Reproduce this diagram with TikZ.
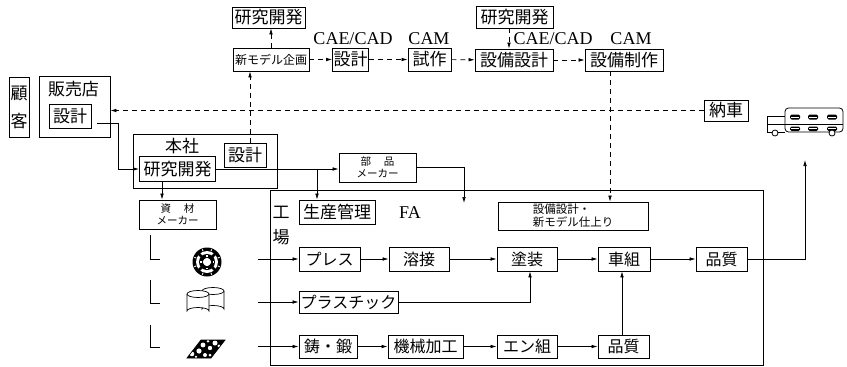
\documentclass[tikz,border=0pt]{standalone}
\usepackage{fontspec}
\setmainfont{Noto Sans CJK JP}
\newfontfamily\latin{Liberation Serif}
\usetikzlibrary{arrows.meta}

\begin{document}
\begin{tikzpicture}[x=1pt,y=-1pt,
  bx/.style={draw, line width=0.8pt, inner sep=0pt, font=\fontsize{17}{20}\selectfont},
  rowbx/.style={bx, font=\fontsize{16}{19}\selectfont},
  small/.style={bx, align=center, font=\fontsize{10.5}{12}\selectfont},
  lbl/.style={inner sep=0pt, font=\fontsize{17}{20}\selectfont},
  latinlbl/.style={inner sep=0pt, font=\latin\fontsize{18}{20}\selectfont},
  arr/.style={-{Latex[length=6pt,width=3.6pt]}, line width=0.7pt},
  dsh/.style={arr, dash pattern=on 5pt off 4pt},
  plain/.style={line width=0.7pt}]

\fill[white] (0,0) rectangle (847,367);
\useasboundingbox (0,0) rectangle (847,367);

% --- customer and dealer ---
\node[bx, minimum width=20, minimum height=60, align=center] (kokyaku) at (19,107) {顧\\[8pt]客};
\node[bx, minimum width=71, minimum height=61] (hanbai) at (74.5,106.5) {};
\node[lbl] (hanbaiLbl) at (73.5,89.5) {販売店};
\node[bx, minimum width=42, minimum height=24] (hsekkei) at (70,116) {設計};

% --- head office ---
\node[bx, minimum width=144, minimum height=54] (honsha) at (205,161) {};
\node[lbl] (honshaLbl) at (182,146) {本社};
\node[bx, minimum width=76, minimum height=25] (hkenkyu) at (177.5,169) {研究開発};
\node[bx, minimum width=42, minimum height=24] (hsekkei2) at (245,155) {設計};

% --- planning chain (top row) ---
\node[bx, minimum width=73, minimum height=21] (kenkyuA) at (268.5,17.5) {研究開発};
\node[bx, minimum width=76, minimum height=23, font=\fontsize{12}{14}\selectfont] (shinmodel) at (271,59.5) {新モデル企画};
\node[bx, minimum width=36, minimum height=23] (sekkeiT) at (350.5,59.5) {設計};
\node[bx, minimum width=43, minimum height=23] (shisaku) at (429.5,59.5) {試作};
\node[bx, minimum width=78, minimum height=22] (setsubiS) at (514,60) {設備設計};
\node[bx, minimum width=77, minimum height=22] (kenkyuB) at (514.5,17) {研究開発};
\node[bx, minimum width=78, minimum height=22] (setsubiM) at (624,60) {設備制作};

\node[latinlbl] (cadA) at (353,39) {CAE/CAD};
\node[latinlbl] (camA) at (429,39) {CAM};
\node[latinlbl] (cadB) at (553,39) {CAE/CAD};
\node[latinlbl] (camB) at (631,39) {CAM};

\node[bx, minimum width=44, minimum height=21] (nousha) at (726,110.5) {納車};

% --- suppliers ---
\node[small, minimum width=77, minimum height=29] (buhin) at (377.5,167.5) {部\hspace{1.2em}品\\メーカー};
\node[small, minimum width=77, minimum height=29] (shizai) at (177.5,214.5) {資\hspace{1.2em}材\\メーカー};

% --- factory ---
\node[draw, line width=0.8pt, minimum width=493, minimum height=175] (factory) at (516.5,277.5) {};
\node[lbl] (kou) at (281,212) {工};
\node[lbl] (jou) at (281,237) {場};
\node[latinlbl] (fa) at (410,213) {FA};
\node[bx, minimum width=76, minimum height=24] (seisan) at (337,212) {生産管理};
\node[bx, minimum width=150, minimum height=28, align=left, font=\fontsize{11.5}{13}\selectfont] (finish) at (573,216) {設備設計・\\新モデル仕上り};

% row 1
\node[rowbx, minimum width=61, minimum height=24] (press) at (329.5,259) {プレス};
\node[rowbx, minimum width=60, minimum height=24] (yousetsu) at (419,259) {溶接};
\node[rowbx, minimum width=60, minimum height=24] (tosou) at (527,259) {塗装};
\node[rowbx, minimum width=52, minimum height=24] (shakumi) at (624,259) {車組};
\node[rowbx, minimum width=51, minimum height=24] (hinA) at (721.5,259) {品質};
% row 2
\node[rowbx, minimum width=99, minimum height=22] (plastic) at (348.5,302) {プラスチック};
% row 3
\node[rowbx, minimum width=58, minimum height=23] (chutan) at (328,346.5) {鋳・鍛};
\node[rowbx, minimum width=75, minimum height=23] (kikai) at (425.5,346.5) {機械加工};
\node[rowbx, minimum width=60, minimum height=23] (enkumi) at (527,346.5) {エン組};
\node[rowbx, minimum width=51, minimum height=23] (hinB) at (623.5,346.5) {品質};

% --- free ends ---
\coordinate (dealerOut) at (97,123);
\coordinate (buhinDrop) at (464,203);
\coordinate (delivery) at (805,160);
\coordinate (ic1) at (258,259);
\coordinate (ic2) at (258,302);
\coordinate (ic3) at (258,346.5);

% --- solid connectors ---
\draw[arr] (dealerOut) -- ++(21,0) |- (hkenkyu.west);
\draw[arr] (hkenkyu.east) -- (hkenkyu.east -| buhin.west);
\draw[arr] (hkenkyu.east -| 317,0) -- (317,0 |- seisan.north);
\draw[arr] (buhin.east) -| (buhinDrop);
\draw[arr] (hkenkyu.south -| 162,0) -- (162,0 |- shizai.north);

\draw[arr] (ic1) -- (press.west);
\draw[arr] (ic2) -- (plastic.west);
\draw[arr] (ic3) -- (chutan.west);

\draw[arr] (press) -- (yousetsu);
\draw[arr] (yousetsu) -- (tosou);
\draw[arr] (tosou) -- (shakumi);
\draw[arr] (shakumi) -- (hinA);
\draw[arr] (plastic.east) -| (530,0 |- tosou.south);
\draw[arr] (chutan) -- (kikai);
\draw[arr] (kikai) -- (enkumi);
\draw[arr] (enkumi) -- (hinB);
\draw[arr] (hinB.north -| 622,0) -- (622,0 |- shakumi.south);
\draw[arr] (hinA.east) -| (delivery);

% --- dashed connectors ---
\draw[dsh] (nousha.west) -- (nousha.west -| hanbai.east);
\draw[dsh] (hsekkei2.north -| 250,0) -- (250,0 |- shinmodel.south);
\draw[dsh] (shinmodel.north) -- (shinmodel.north |- kenkyuA.south);
\draw[dsh] (shinmodel) -- (sekkeiT);
\draw[dsh] (sekkeiT) -- (shisaku);
\draw[dsh] (shisaku) -- (setsubiS);
\draw[dsh] (setsubiS) -- (setsubiM);
\draw[dsh] (kenkyuB.south -| 509,0) -- (509,0 |- setsubiS.north);
\draw[dsh] (setsubiM.south -| 610,0) -- (610,0 |- finish.north);

% --- material brackets ---
\draw[plain] (150,235) -- (150,259) -- (160,259);
\draw[plain] (150,280) -- (150,303) -- (160,303);
\draw[plain] (150,325) -- (150,347) -- (160,347);

% --- tyre ---
\fill (207,262) circle (14.5);
\fill[white] (207,262) circle (11);
\fill (207,262) circle (8);
\fill[white] (207,262) circle (4.2);
\foreach \a in {45,135,225,315}
  \draw[line width=2.8pt] (207,262) ++(\a:4) -- ++(\a:8);
\foreach \a in {0,90,180,270}
  \draw[white, line width=1.3pt] (207,262) ++(\a:5.5) -- ++(\a:1.8);
\foreach \a in {20,70,110,160,200,250,290,340}
  \draw[white, line width=0.9pt] (207,262) ++(\a:11.5) -- ++(\a:2);

% --- resin drums ---
\begin{scope}[line width=0.7pt]
  \draw[fill=white] (202,291) -- (202,309) arc[start angle=180, end angle=360, x radius=11, y radius=3.5] -- (224,291);
  \draw[fill=white] (213,291) ellipse[x radius=11, y radius=3.5];
  \draw[fill=white] (187,294) -- (187,311) arc[start angle=180, end angle=360, x radius=11, y radius=3.5] -- (209,294);
  \draw[fill=white] (198,294) ellipse[x radius=11, y radius=3.5];
\end{scope}

% --- ore ---
\begin{scope}
  \clip (187,358) -- (211,358) -- (225,340) -- (201,340) -- cycle;
  \fill (180,335) rectangle (230,360);
  \foreach \p/\r in {{(192,354)}/2.3,{(199,351)}/2.6,{(205,355)}/2,{(203,345)}/2.4,{(210,348)}/2.2,{(215,343)}/2.5,{(219,346)}/1.6,{(196,357)}/1.4,{(210,355)}/1.5,{(208,341)}/1.5}
    \fill[white] \p circle (\r);
\end{scope}
\draw[line width=0.7pt] (187,358) -- (211,358) -- (225,340) -- (201,340) -- cycle;

% --- truck ---
\begin{scope}[line width=0.8pt]
  \draw[rounded corners=3.5, fill=white] (785,132) -- (785,108) -- (843,108) -- (843,132) -- cycle;
  \draw (785,132) -- (767,132) -- (767,116) -- (785,116);
  \draw (767,124) -- (843,124);
  \foreach \x in {795,813,832} {
    \fill[rounded corners=1.5] (\x-5,114.5) rectangle (\x+5,119.5);
    \draw[white, line width=0.6pt] (\x-4,117) -- (\x+4,117);
    \fill[rounded corners=1.5] (\x-5,126.5) rectangle (\x+5,131);
    \draw[white, line width=0.6pt] (\x-4,128.7) -- (\x+4,128.7);
  }
  \draw[fill=white] (775,133) circle (3);
  \draw[fill=white] (832,133) circle (3);
\end{scope}

\end{tikzpicture}
\end{document}
